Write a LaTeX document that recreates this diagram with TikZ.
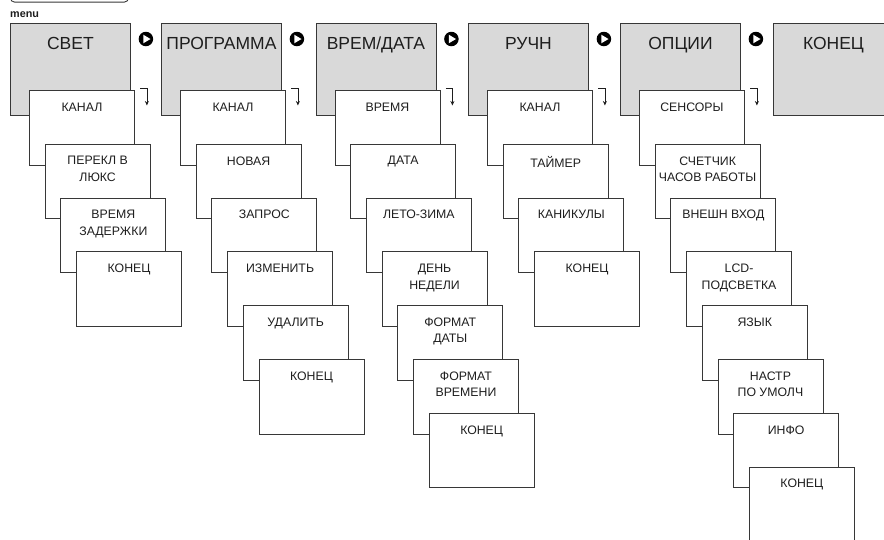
\documentclass[tikz,border=0pt]{standalone}
\usepackage{fontspec}
\setmainfont{Liberation Sans}
\usetikzlibrary{arrows.meta,calc}
\definecolor{boxgray}{RGB}{217,217,217}
\definecolor{edgec}{RGB}{55,55,55}
\definecolor{txtc}{RGB}{30,30,30}
\tikzset{
  topbox/.style={draw=edgec, fill=boxgray, line width=0.9pt, minimum width=120pt, minimum height=92pt, inner sep=0pt, anchor=north west},
  subbox/.style={draw=edgec, fill=white, line width=0.9pt, minimum width=105pt, minimum height=74.5pt, inner sep=0pt, anchor=north west},
  toptext/.style={font=\fontsize{17.5}{20}\selectfont, text=txtc, inner sep=0pt, anchor=base},
  subtext/.style={font=\fontsize{12.3}{16.5}\selectfont, text=txtc, align=center, inner sep=0pt, anchor=north},
  playicon/.style={circle, fill=black, minimum size=14.5pt, inner sep=0pt},
  downarrow/.style={draw=txtc, line width=0.8pt, -{Stealth[length=4.5pt,width=4pt]}},
  menubtn/.style={draw=edgec, line width=0.9pt, rounded corners=4pt, minimum width=118pt, minimum height=14pt, inner sep=0pt, anchor=south west}
}
\begin{document}
\begin{tikzpicture}[x=1pt,y=-1pt]
\useasboundingbox (0,0) rectangle (884,539);
\clip (0,0) rectangle (884,539);

% menu button (cut by the top edge) and its label
\node[menubtn] (btn) at (10,2.5) {};
\node[anchor=base west, inner sep=0pt, font=\fontsize{10.8}{12}\selectfont\bfseries, text=txtc] (menu) at (10,17) {menu};

% column 1: СВЕТ
\node[topbox] (t1) at (10,23) {};
\node[toptext] (t1l) at ($(t1.north)+(0,26)$) {СВЕТ};
\foreach \t [count=\k from 0] in {КАНАЛ, {ПЕРЕКЛ В\\ЛЮКС}, {ВРЕМЯ\\ЗАДЕРЖКИ}, КОНЕЦ} {
  \node[subbox] (a\k) at ({29+15.7*\k},{90+53.8*\k}) {};
  \node[subtext] (a\k l) at ($(a\k.north)+(0,12.5)$) {\t};
}

% column 2: ПРОГРАММА
\node[topbox] (t2) at (161,23) {};
\node[toptext] (t2l) at ($(t2.north)+(0,26)$) {ПРОГРАММА};
\foreach \t [count=\k from 0] in {КАНАЛ, НОВАЯ, ЗАПРОС, ИЗМЕНИТЬ, УДАЛИТЬ, КОНЕЦ} {
  \node[subbox] (b\k) at ({180+15.7*\k},{90+53.8*\k}) {};
  \node[subtext] (b\k l) at ($(b\k.north)+(0,12.5)$) {\t};
}

% column 3: ВРЕМ/ДАТА
\node[topbox] (t3) at (315.5,23) {};
\node[toptext] (t3l) at ($(t3.north)+(0,26)$) {ВРЕМ/ДАТА};
\foreach \t [count=\k from 0] in {ВРЕМЯ, ДАТА, ЛЕТО-ЗИМА, {ДЕНЬ\\НЕДЕЛИ}, {ФОРМАТ\\ДАТЫ}, {ФОРМАТ\\ВРЕМЕНИ}, КОНЕЦ} {
  \node[subbox] (c\k) at ({334.5+15.7*\k},{90+53.8*\k}) {};
  \node[subtext] (c\k l) at ($(c\k.north)+(0,12.5)$) {\t};
}

% column 4: РУЧН
\node[topbox] (t4) at (468,23) {};
\node[toptext] (t4l) at ($(t4.north)+(0,26)$) {РУЧН};
\foreach \t [count=\k from 0] in {КАНАЛ, ТАЙМЕР, КАНИКУЛЫ, КОНЕЦ} {
  \node[subbox] (d\k) at ({487+15.7*\k},{90+53.8*\k}) {};
  \node[subtext] (d\k l) at ($(d\k.north)+(0,12.5)$) {\t};
}

% column 5: ОПЦИИ
\node[topbox] (t5) at (620,23) {};
\node[toptext] (t5l) at ($(t5.north)+(0,26)$) {ОПЦИИ};
\foreach \t [count=\k from 0] in {СЕНСОРЫ, {СЧЕТЧИК\\ЧАСОВ РАБОТЫ}, ВНЕШН ВХОД, {LCD-\\ПОДСВЕТКА}, ЯЗЫК, {НАСТР\\ПО УМОЛЧ}, ИНФО, КОНЕЦ} {
  \node[subbox] (e\k) at ({639+15.7*\k},{90+53.8*\k}) {};
  \node[subtext] (e\k l) at ($(e\k.north)+(0,12.5)$) {\t};
}

% column 6: КОНЕЦ
\node[topbox] (t6) at (773,23) {};
\node[toptext] (t6l) at ($(t6.north)+(0,26)$) {КОНЕЦ};

% play icons and down arrows
\foreach \i in {1,...,5} {
  \node[playicon] (p\i) at ($(t\i.north east)+(15,16)$) {};
  \fill[white] ($(p\i.center)+(-2.6,-4.3)$) -- ($(p\i.center)+(4.6,0)$) -- ($(p\i.center)+(-2.6,4.3)$) -- cycle;
  \coordinate (r\i) at ($(t\i.north east)+(9.5,65)$);
  \draw[downarrow] (r\i) -- ++(6.5,0) -- ++(0,17.5);
}
\end{tikzpicture}
\end{document}
